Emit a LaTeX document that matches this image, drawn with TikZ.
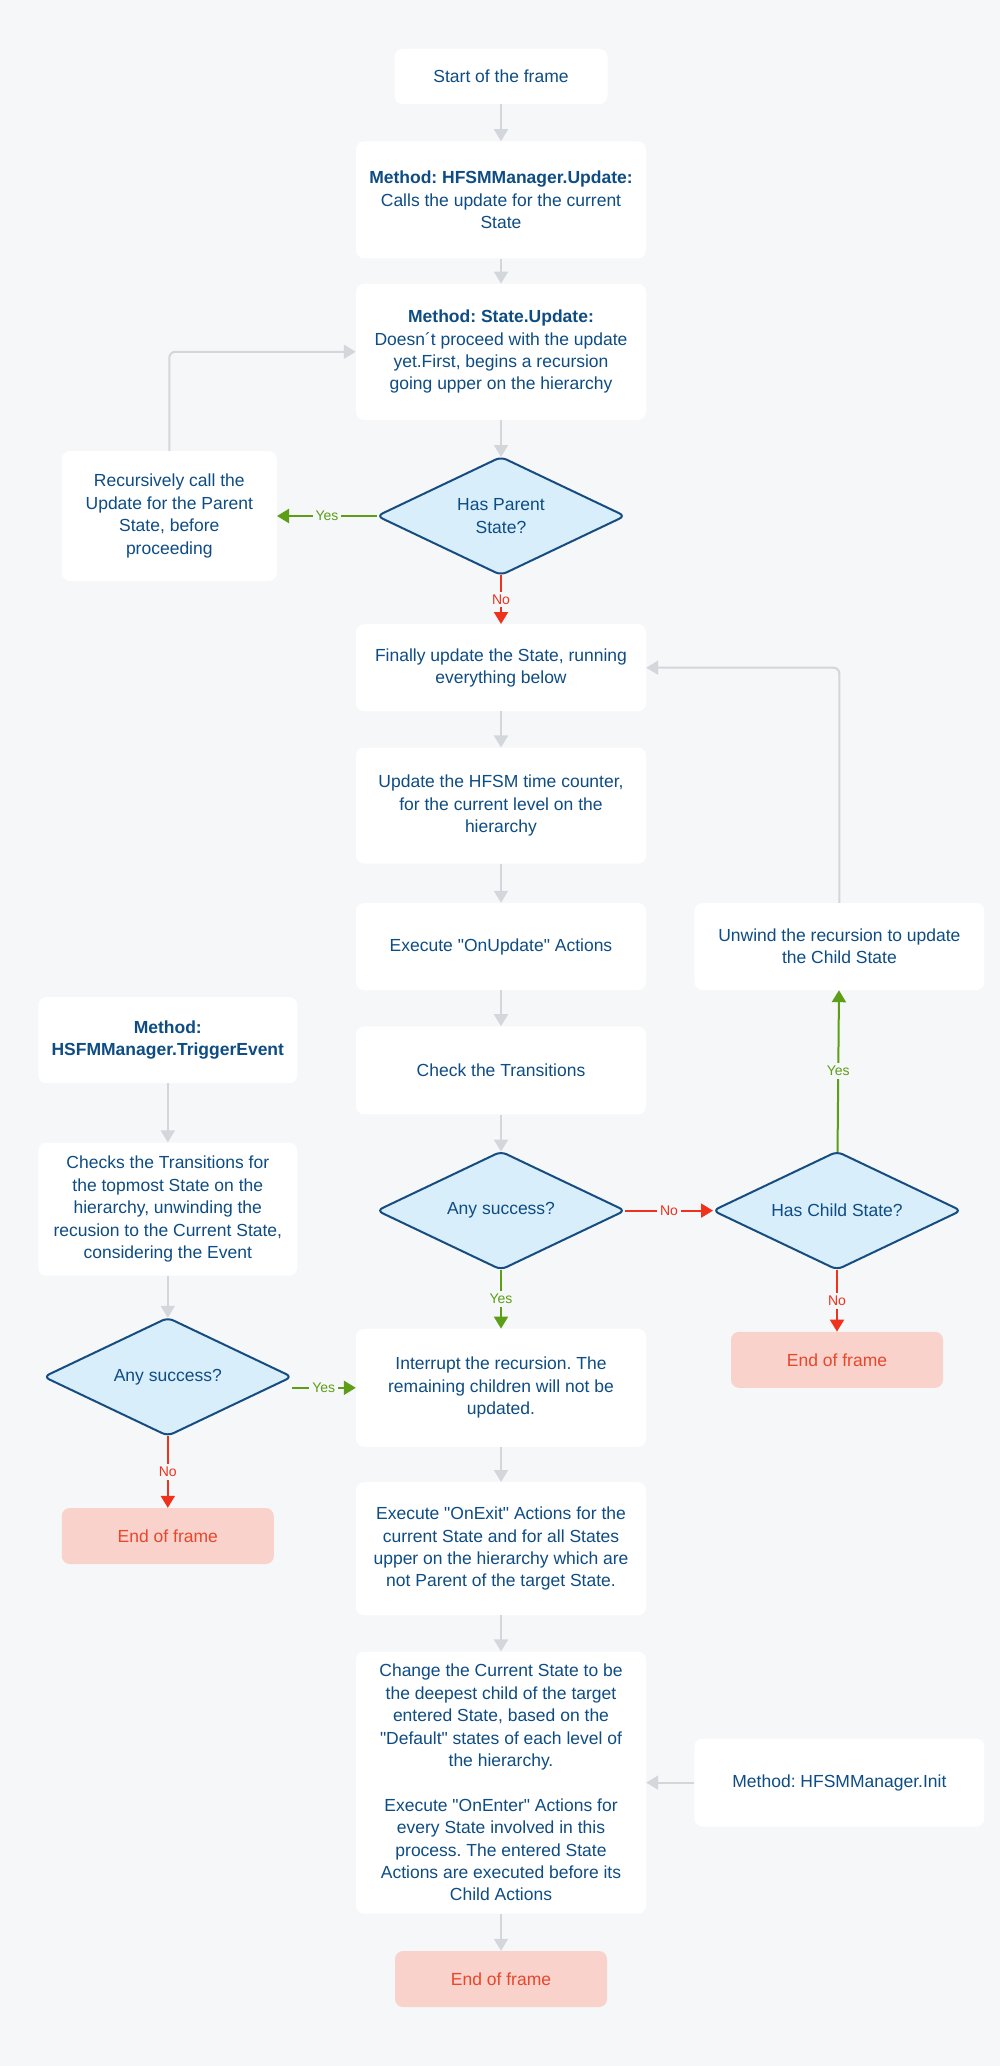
\documentclass[tikz,border=0pt]{standalone}
\usepackage{fontspec}
\setmainfont{Liberation Sans}[Ligatures=TeXOff]
\frenchspacing
\usetikzlibrary{arrows.meta, positioning, shapes.geometric}
\definecolor{bgc}{HTML}{F5F7F9}
\definecolor{txtblue}{HTML}{0E4C84}
\definecolor{dfill}{HTML}{D8EEFA}
\definecolor{dline}{HTML}{174C80}
\definecolor{flowgray}{HTML}{D3D7DC}
\definecolor{yesgreen}{HTML}{5C9E16}
\definecolor{nored}{HTML}{F0311C}
\definecolor{endfill}{HTML}{F8D2CB}
\definecolor{endtext}{HTML}{E9462C}

\begin{document}
\begin{tikzpicture}[>={Triangle[length=12pt,width=14pt]},
  txt/.style={font=\fontsize{17.5}{22.4}\selectfont},
  box/.style={txt, rectangle, fill=white, rounded corners=8pt, text=txtblue, align=center,
    minimum width=290pt, minimum height=87pt, inner xsep=4pt, inner ysep=6pt},
  decision/.style={txt, diamond, aspect=2.1, draw=dline, line width=2pt, fill=dfill, rounded corners=6pt,
    text=txtblue, align=center, minimum width=248pt, minimum height=118pt, inner sep=0pt, outer sep=0pt},
  endbox/.style={txt, rectangle, fill=endfill, rounded corners=8pt, text=endtext,
    minimum width=212pt, minimum height=56pt},
  flow/.style={->, draw=flowgray, line width=2pt},
  yes/.style={->, draw=yesgreen, line width=2pt},
  no/.style={->, draw=nored, line width=2pt},
  lbl/.style={fill=bgc, inner sep=3pt, font=\fontsize{14}{16}\selectfont}]

  \fill[bgc] (0,0) rectangle (1000pt,-2066pt);
  \useasboundingbox (0,0) rectangle (1000pt,-2066pt);

  \node[box, minimum width=213pt, minimum height=55pt] (start) at (501pt,-76.5pt) {Start of the frame};
  \node[box, minimum height=117pt, below=37pt of start] (mgrupd) {\textbf{Method: HFSMManager.Update:}\\Calls the update for the current\\State};
  \node[box, minimum height=136pt, below=25pt of mgrupd] (stupd) {\textbf{Method: State.Update:}\\Doesn´t proceed with the update\\yet.First, begins a recursion\\going upper on the hierarchy};
  \node[decision, below=37pt of stupd] (hasparent) {Has Parent\\State?};
  \node[box, minimum width=215pt, minimum height=130pt, left=100pt of hasparent] (recur) {Recursively call the\\Update for the Parent\\State, before\\proceeding};
  \node[box, below=49pt of hasparent] (finally) {Finally update the State, running\\everything below};
  \node[box, minimum height=116pt, below=36pt of finally] (timer) {Update the HFSM time counter,\\for the current level on the\\hierarchy};
  \node[box, below=39pt of timer] (onupd) {Execute "OnUpdate" Actions};
  \node[box, right=48pt of onupd] (unwind) {Unwind the recursion to update\\the Child State};
  \node[box, minimum height=88pt, below=36pt of onupd] (checktr) {Check the Transitions};
  \node[decision, below=37pt of checktr] (anysucc) {Any success?};
  \node[decision, right=88pt of anysucc] (haschild) {Has Child State?};
  \node[endbox, below=62pt of haschild] (endr) {End of frame};
  \node[box, minimum height=118pt, below=59pt of anysucc] (interrupt) {Interrupt the recursion. The\\remaining children will not be\\updated.};
  \node[box, minimum height=133pt, below=35pt of interrupt] (onexit) {Execute "OnExit" Actions for the\\current State and for all States\\upper on the hierarchy which are\\not Parent of the target State.};
  \node[box, minimum height=262pt, below=36pt of onexit] (change) {Change the Current State to be\\the deepest child of the target\\entered State, based on the\\"Default" states of each level of\\the hierarchy.\\[22.4pt]Execute "OnEnter" Actions for\\every State involved in this\\process. The entered State\\Actions are executed before its\\Child Actions};
  \node[box, minimum height=88pt, right=48pt of change] (init) {Method: HFSMManager.Init};
  \node[endbox, below=37pt of change] (endc) {End of frame};

  \node[decision, left=64pt of interrupt, yshift=11pt] (anyleft) {Any success?};
  \node[box, minimum width=259pt, minimum height=133pt, above=42pt of anyleft] (checks) {Checks the Transitions for\\the topmost State on the\\hierarchy, unwinding the\\recusion to the Current State,\\considering the Event};
  \node[box, minimum width=259pt, minimum height=86pt, above=59pt of checks] (trig) {\textbf{Method:}\\\textbf{HSFMManager.TriggerEvent}};
  \node[endbox, below=72pt of anyleft] (endl) {End of frame};

  \draw[flow] (start) -- (mgrupd);
  \draw[flow] (mgrupd) -- (stupd);
  \draw[flow] (stupd) -- (hasparent);
  \draw[yes] (hasparent) -- node[lbl, text=yesgreen] {Yes} (recur);
  \draw[flow, rounded corners=6pt] (recur.north) |- (stupd.west);
  \draw[no] (hasparent) -- node[lbl, text=nored] {No} (finally);
  \draw[flow] (finally) -- (timer);
  \draw[flow] (timer) -- (onupd);
  \draw[flow] (onupd) -- (checktr);
  \draw[flow] (checktr) -- (anysucc);
  \draw[no] (anysucc) -- node[lbl, text=nored] {No} (haschild);
  \draw[yes] (anysucc) -- node[lbl, text=yesgreen] {Yes} (interrupt);
  \draw[yes] (haschild) -- node[lbl, text=yesgreen] {Yes} (unwind);
  \draw[no] (haschild) -- node[lbl, text=nored] {No} (endr);
  \draw[flow, rounded corners=6pt] (unwind.north) |- (finally.east);
  \draw[flow] (interrupt) -- (onexit);
  \draw[flow] (onexit) -- (change);
  \draw[flow] (change) -- (endc);
  \draw[flow] (init) -- (change);
  \draw[flow] (trig) -- (checks);
  \draw[flow] (checks) -- (anyleft);
  \draw[yes] (anyleft.east |- interrupt.west) -- node[lbl, text=yesgreen] {Yes} (interrupt.west);
  \draw[no] (anyleft) -- node[lbl, text=nored] {No} (endl);
\end{tikzpicture}
\end{document}
